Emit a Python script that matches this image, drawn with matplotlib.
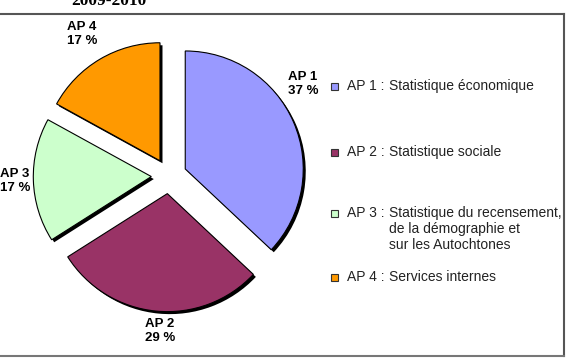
import matplotlib.pyplot as plt
from matplotlib.patches import Rectangle

# Data
codes = ['AP 1', 'AP 2', 'AP 3', 'AP 4']
shares = [37, 29, 17, 17]
descriptions = ['Statistique économique',
                'Statistique sociale',
                'Statistique du recensement,\nde la démographie et\nsur les Autochtones',
                'Services internes']
colors = ['#9999FF', '#993366', '#CCFFCC', '#FF9900']
title = '2009-2010'

W, H = 578, 358
fig = plt.figure(figsize=(W / 100, H / 100), dpi=100)
ax = fig.add_axes([0, 0, 1, 1])

def Y(y):
    # image row -> data y
    return H - y

cx, cy, r = 169, Y(176), 118
# matplotlib's explode offset is in data units here
explode = [0.15 * r] * len(shares)

# shadow pie, shifted right/down
ax.pie(shares, explode=explode, startangle=90, counterclock=False,
       center=(cx + 2.5, cy - 2.5), radius=r, colors=['black'] * 4,
       wedgeprops=dict(linewidth=0), frame=True)
ax.pie(shares, explode=explode, startangle=90, counterclock=False,
       center=(cx, cy), radius=r, colors=colors,
       wedgeprops=dict(edgecolor='black', linewidth=0.8), frame=True)
ax.set_xlim(0, W)
ax.set_ylim(0, H)
ax.set_aspect('equal')
ax.axis('off')

# slice labels
label_pos = [(288, 84, 'left'), (160, 331, 'center'),
             (0, 181, 'left'), (67, 34, 'left')]
for (x, y, ha), c, s in zip(label_pos, codes, shares):
    ax.text(x, Y(y), f'{c}\n{s} %', ha=ha, va='center', fontsize=9.5,
            fontweight='bold', family='Liberation Sans', linespacing=1.3)

# legend
leg_y = [86, 152, 213, 277]
for y, c, d, col in zip(leg_y, codes, descriptions, colors):
    ax.add_patch(Rectangle((331, Y(y) - 3.5), 7, 7, facecolor=col,
                           edgecolor='#333333', linewidth=0.8))
    ax.text(347, Y(y) + 7, f'{c} :', ha='left', va='top',
            fontsize=10, family='Liberation Sans', color='#222222')
    ax.text(389, Y(y) + 7, d, ha='left', va='top', fontsize=10,
            family='Liberation Sans', color='#222222', linespacing=1.2)

# frame lines
ax.plot([0, 564], [Y(14), Y(14)], color='#555555', lw=1.5)
ax.plot([564, 564], [Y(14), Y(356)], color='#555555', lw=1.5)
ax.plot([0, 564], [Y(356), Y(356)], color='#777777', lw=1.5)

# title, clipped at the top edge as in the source
ax.text(109, Y(5), title, ha='center', va='baseline', fontsize=12.5,
        fontweight='bold', family='Liberation Serif', clip_on=False)

fig.savefig('out.png', dpi=100)
